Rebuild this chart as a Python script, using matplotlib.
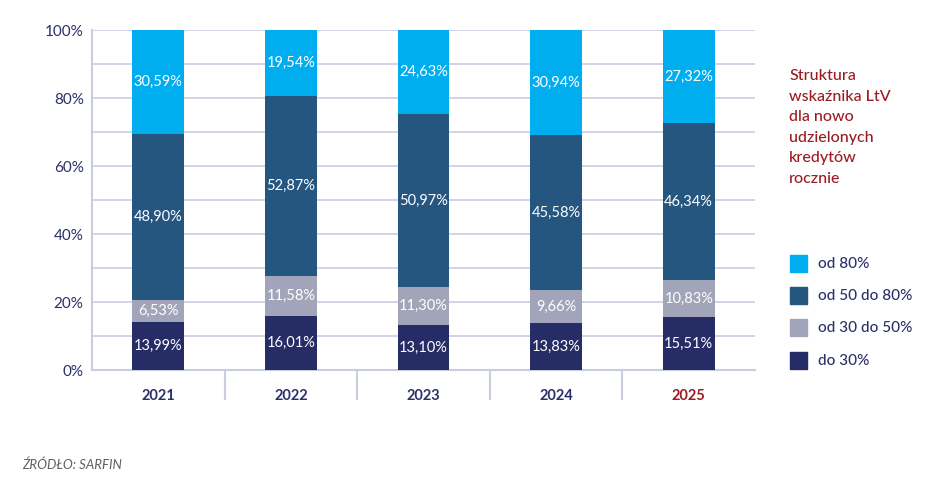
import matplotlib.pyplot as plt
import numpy as np

plt.rcParams['font.family'] = ['Lato', 'DejaVu Sans']

years = ['2021', '2022', '2023', '2024', '2025']
do_30 = [13.99, 16.01, 13.10, 13.83, 15.51]
od_30_50 = [6.53, 11.58, 11.30, 9.66, 10.83]
od_50_80 = [48.90, 52.87, 50.97, 45.58, 46.34]
od_80 = [30.59, 19.54, 24.63, 30.94, 27.32]

series = [
    ('do 30%', do_30, '#262c65'),
    ('od 30 do 50%', od_30_50, '#a2a5b9'),
    ('od 50 do 80%', od_50_80, '#245680'),
    ('od 80%', od_80, '#00aeef'),
]

navy = '#2b2f6a'
red = '#9b1c22'
grid_col = '#c8cde0'

fig = plt.figure(figsize=(9.48, 4.84), dpi=100)
ax = fig.add_axes([92 / 948, 1 - 370 / 484, 663 / 948, 340 / 484])

x = np.arange(len(years))
bottom = np.zeros(len(years))
for name, vals, col in series:
    vals = np.array(vals)
    ax.bar(x, vals, 0.39, bottom=bottom, color=col, zorder=3)
    for xi, b, v in zip(x, bottom, vals):
        ax.text(xi, b + v / 2, f'{v:.2f}%'.replace('.', ','), ha='center', va='center',
                color='white', fontsize=10.5, zorder=4)
    bottom += vals

ax.set_xlim(-0.5, len(years) - 0.5)
ax.set_ylim(0, 100)
ax.set_yticks(range(0, 101, 20))
ax.set_yticklabels([f'{v}%' for v in range(0, 101, 20)], color=navy, fontsize=11)
ax.set_yticks(range(0, 101, 10), minor=True)
ax.grid(axis='y', which='both', color=grid_col, lw=1.2, zorder=0)
ax.tick_params(axis='y', which='both', length=0, pad=6)
ax.set_xticks(x)
ax.set_xticklabels(years, fontsize=10.5, fontweight='bold', color=navy)
ax.get_xticklabels()[-1].set_color(red)
ax.tick_params(axis='x', length=0, pad=14)
for s in ['top', 'right']:
    ax.spines[s].set_visible(False)
for s in ['left', 'bottom']:
    ax.spines[s].set_color(grid_col)
    ax.spines[s].set_linewidth(1.5)

# category separators below the axis
for sep in x[:-1] + 0.5:
    ax.plot([sep, sep], [0, -8.5], color=grid_col, lw=1.5, clip_on=False)

# side title
fig.text(789 / 948, 1 - 69 / 484,
         'Struktura\nwskaźnika LtV\ndla nowo\nudzielonych\nkredytów\nrocznie',
         color=red, fontsize=11.5, fontweight='medium', va='top', ha='left', linespacing=1.6)

# legend
leg_y = [264, 296, 328, 361]
for (name, vals, col), yy in zip(series[::-1], leg_y):
    fig.patches.append(plt.Rectangle((790 / 948, 1 - (yy + 8) / 484), 17 / 948, 17 / 484,
                                     transform=fig.transFigure, color=col))
    fig.text(818 / 948, 1 - yy / 484, name, color=navy, fontsize=11, fontweight='medium',
             va='center', ha='left')

fig.text(22 / 948, 1 - 465 / 484, 'ŹRÓDŁO: SARFIN', color='#606060', fontsize=9.5,
         style='italic', va='center', ha='left')

fig.savefig('out.png', dpi=100)
